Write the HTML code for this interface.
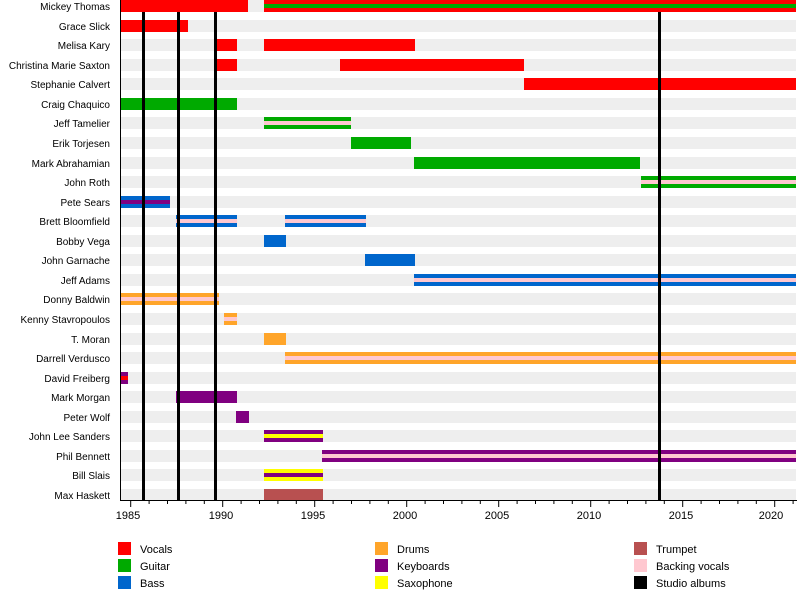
<!DOCTYPE html>
<html><head><meta charset="utf-8"><style>
html,body{margin:0;padding:0;background:#fff;}
svg{display:block;font-family:"Liberation Sans",Arial,sans-serif;font-size:11px;}
</style></head><body>
<svg width="800" height="590" viewBox="0 0 800 590" xmlns="http://www.w3.org/2000/svg">
<g fill="#eeeeee">
<rect x="120" y="0" width="676" height="12"/>
<rect x="120" y="20" width="676" height="12"/>
<rect x="120" y="39" width="676" height="12"/>
<rect x="120" y="59" width="676" height="12"/>
<rect x="120" y="78" width="676" height="12"/>
<rect x="120" y="98" width="676" height="12"/>
<rect x="120" y="117" width="676" height="12"/>
<rect x="120" y="137" width="676" height="12"/>
<rect x="120" y="157" width="676" height="12"/>
<rect x="120" y="176" width="676" height="12"/>
<rect x="120" y="196" width="676" height="12"/>
<rect x="120" y="215" width="676" height="12"/>
<rect x="120" y="235" width="676" height="12"/>
<rect x="120" y="254" width="676" height="12"/>
<rect x="120" y="274" width="676" height="12"/>
<rect x="120" y="293" width="676" height="12"/>
<rect x="120" y="313" width="676" height="12"/>
<rect x="120" y="333" width="676" height="12"/>
<rect x="120" y="352" width="676" height="12"/>
<rect x="120" y="372" width="676" height="12"/>
<rect x="120" y="391" width="676" height="12"/>
<rect x="120" y="411" width="676" height="12"/>
<rect x="120" y="430" width="676" height="12"/>
<rect x="120" y="450" width="676" height="12"/>
<rect x="120" y="469" width="676" height="12"/>
<rect x="120" y="489" width="676" height="12"/>
</g>
<g text-anchor="end" fill="#000" style="font-size:10px">
<text x="110" y="10">Mickey Thomas</text>
<text x="110" y="30">Grace Slick</text>
<text x="110" y="49">Melisa Kary</text>
<text x="110" y="69">Christina Marie Saxton</text>
<text x="110" y="88">Stephanie Calvert</text>
<text x="110" y="108">Craig Chaquico</text>
<text x="110" y="127">Jeff Tamelier</text>
<text x="110" y="147">Erik Torjesen</text>
<text x="110" y="167">Mark Abrahamian</text>
<text x="110" y="186">John Roth</text>
<text x="110" y="206">Pete Sears</text>
<text x="110" y="225">Brett Bloomfield</text>
<text x="110" y="245">Bobby Vega</text>
<text x="110" y="264">John Garnache</text>
<text x="110" y="284">Jeff Adams</text>
<text x="110" y="303">Donny Baldwin</text>
<text x="110" y="323">Kenny Stavropoulos</text>
<text x="110" y="343">T. Moran</text>
<text x="110" y="362">Darrell Verdusco</text>
<text x="110" y="382">David Freiberg</text>
<text x="110" y="401">Mark Morgan</text>
<text x="110" y="421">Peter Wolf</text>
<text x="110" y="440">John Lee Sanders</text>
<text x="110" y="460">Phil Bennett</text>
<text x="110" y="479">Bill Slais</text>
<text x="110" y="499">Max Haskett</text>
</g>
<g>
<rect x="120" y="0" width="128" height="12" fill="#ff0000"/>
<rect x="264" y="0" width="532" height="12" fill="#ff0000"/><rect x="264" y="4" width="532" height="4" fill="#00aa00"/>
<rect x="120" y="20" width="68" height="12" fill="#ff0000"/>
<rect x="216" y="39" width="21" height="12" fill="#ff0000"/>
<rect x="264" y="39" width="151" height="12" fill="#ff0000"/>
<rect x="216" y="59" width="21" height="12" fill="#ff0000"/>
<rect x="340" y="59" width="184" height="12" fill="#ff0000"/>
<rect x="524" y="78" width="272" height="12" fill="#ff0000"/>
<rect x="120" y="98" width="117" height="12" fill="#00aa00"/>
<rect x="264" y="117" width="87" height="12" fill="#00aa00"/><rect x="264" y="121" width="87" height="4" fill="#ffc8d0"/>
<rect x="351" y="137" width="60" height="12" fill="#00aa00"/>
<rect x="414" y="157" width="226" height="12" fill="#00aa00"/>
<rect x="641" y="176" width="155" height="12" fill="#00aa00"/><rect x="641" y="180" width="155" height="4" fill="#ffc8d0"/>
<rect x="120" y="196" width="50" height="12" fill="#0066cc"/><rect x="120" y="200" width="50" height="4" fill="#800080"/>
<rect x="176" y="215" width="61" height="12" fill="#0066cc"/><rect x="176" y="219" width="61" height="4" fill="#ffc8d0"/>
<rect x="285" y="215" width="81" height="12" fill="#0066cc"/><rect x="285" y="219" width="81" height="4" fill="#ffc8d0"/>
<rect x="264" y="235" width="22" height="12" fill="#0066cc"/>
<rect x="365" y="254" width="50" height="12" fill="#0066cc"/>
<rect x="414" y="274" width="382" height="12" fill="#0066cc"/><rect x="414" y="278" width="382" height="4" fill="#ffc8d0"/>
<rect x="120" y="293" width="99" height="12" fill="#ffa52a"/><rect x="120" y="297" width="99" height="4" fill="#ffc8d0"/>
<rect x="224" y="313" width="13" height="12" fill="#ffa52a"/><rect x="224" y="317" width="13" height="4" fill="#ffc8d0"/>
<rect x="264" y="333" width="22" height="12" fill="#ffa52a"/>
<rect x="285" y="352" width="511" height="12" fill="#ffa52a"/><rect x="285" y="356" width="511" height="4" fill="#ffc8d0"/>
<rect x="120" y="372" width="8" height="12" fill="#800080"/><rect x="120" y="376" width="8" height="4" fill="#ff0000"/>
<rect x="176" y="391" width="61" height="12" fill="#800080"/>
<rect x="236" y="411" width="13" height="12" fill="#800080"/>
<rect x="264" y="430" width="59" height="12" fill="#800080"/><rect x="264" y="434" width="59" height="4" fill="#ffff00"/>
<rect x="322" y="450" width="474" height="12" fill="#800080"/><rect x="322" y="454" width="474" height="4" fill="#ffc8d0"/>
<rect x="264" y="469" width="59" height="12" fill="#ffff00"/><rect x="264" y="473" width="59" height="4" fill="#800080"/>
<rect x="264" y="489" width="59" height="12" fill="#b85050"/>
</g>
<g stroke="#000" stroke-width="3">
<line x1="143.5" y1="12" x2="143.5" y2="501"/>
<line x1="178.5" y1="12" x2="178.5" y2="501"/>
<line x1="215.5" y1="12" x2="215.5" y2="501"/>
<line x1="659.5" y1="12" x2="659.5" y2="501"/>
</g>
<g stroke="#000" stroke-width="1">
<line x1="120.5" y1="0" x2="120.5" y2="501"/>
<line x1="120" y1="500.5" x2="797" y2="500.5"/>
</g>
<g stroke="#000" stroke-width="1">
<line x1="130.7" y1="500" x2="130.7" y2="507"/><line x1="222.7" y1="500" x2="222.7" y2="507"/>
<line x1="314.7" y1="500" x2="314.7" y2="507"/><line x1="406.7" y1="500" x2="406.7" y2="507"/>
<line x1="498.7" y1="500" x2="498.7" y2="507"/><line x1="590.7" y1="500" x2="590.7" y2="507"/>
<line x1="682.7" y1="500" x2="682.7" y2="507"/><line x1="774.7" y1="500" x2="774.7" y2="507"/>
</g>
<g stroke="#000" stroke-width="1" id="minor"></g>
<g text-anchor="middle">
<text x="128" y="519">1985</text><text x="221" y="519">1990</text><text x="313" y="519">1995</text>
<text x="405" y="519">2000</text><text x="497" y="519">2005</text><text x="589" y="519">2010</text>
<text x="681" y="519">2015</text><text x="771" y="519">2020</text>
</g>
<rect x="118" y="542" width="13" height="13" fill="#ff0000"/><text x="140" y="553">Vocals</text>
<rect x="118" y="559" width="13" height="13" fill="#00aa00"/><text x="140" y="570">Guitar</text>
<rect x="118" y="576" width="13" height="13" fill="#0066cc"/><text x="140" y="587">Bass</text>
<rect x="375" y="542" width="13" height="13" fill="#ffa52a"/><text x="397" y="553">Drums</text>
<rect x="375" y="559" width="13" height="13" fill="#800080"/><text x="397" y="570">Keyboards</text>
<rect x="375" y="576" width="13" height="13" fill="#ffff00"/><text x="397" y="587">Saxophone</text>
<rect x="634" y="542" width="13" height="13" fill="#b85050"/><text x="656" y="553">Trumpet</text>
<rect x="634" y="559" width="13" height="13" fill="#ffc8d0"/><text x="656" y="570">Backing vocals</text>
<rect x="634" y="576" width="13" height="13" fill="#000"/><text x="656" y="587">Studio albums</text>
</svg>
<script>
var g=document.getElementById('minor');
for(var y=1985;y<=2021;y++){if((y-1985)%5===0)continue;var x=130.7+(y-1985)*18.4;var l=document.createElementNS('http://www.w3.org/2000/svg','line');l.setAttribute('x1',x);l.setAttribute('x2',x);l.setAttribute('y1',500);l.setAttribute('y2',504);g.appendChild(l);}
</script>
</body></html>
